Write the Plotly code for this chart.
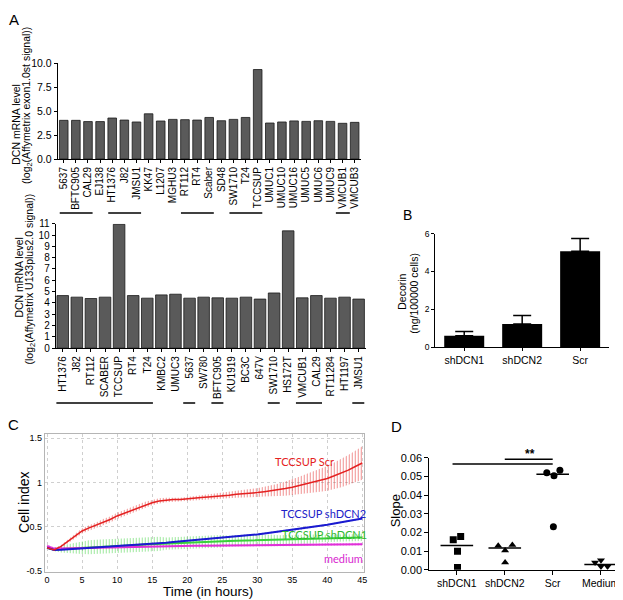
import numpy as np
import plotly.graph_objects as go

# ---------------- data ----------------
# Panel A (top): Affymetrix exon 1.0 ST
A1_LINES = ["5637", "BFTC905", "CAL29", "EJ138", "HT1376", "J82", "JMSU1", "KK47", "L1207",
            "MGHU3", "RT112", "RT4", "Scaber", "SD48", "SW1710", "T24", "TCCSUP", "UMUC1",
            "UMUC10", "UMUC16", "UMUC5", "UMUC6", "UMUC9", "VMCUB1", "VMCUB3"]
A1_DCN = [4.03, 4.03, 3.90, 3.90, 4.27, 4.06, 3.86, 4.71, 3.96, 4.13, 4.10, 4.06, 4.33,
          3.99, 4.13, 4.33, 9.32, 3.75, 3.86, 3.97, 3.92, 3.99, 3.92, 3.72, 3.82]
A1_GROUPS = [("5637", "CAL29"), ("HT1376", "JMSU1"), ("RT112", "Scaber"),
             ("SW1710", "TCCSUP"), ("VMCUB1", "VMCUB1")]
A1_YTICKS = [0, 2.5, 5, 7.5, 10]

# Panel A (bottom): Affymetrix U133plus2.0
A2_LINES = ["HT1376", "J82", "RT112", "SCABER", "TCCSUP", "RT4", "T24", "KMBC2", "UMUC3",
            "5637", "SW780", "BFTC905", "KU1919", "BC3C", "647V", "SW1710", "HS172T",
            "VMCUB1", "CAL29", "RT11284", "HT1197", "JMSU1"]
A2_DCN = [4.65, 4.51, 4.39, 4.51, 10.95, 4.65, 4.42, 4.71, 4.77, 4.42, 4.51, 4.45, 4.42,
          4.51, 4.34, 4.88, 10.37, 4.45, 4.65, 4.42, 4.51, 4.34]
A2_GROUPS = [("HT1376", "T24"), ("5637", "5637"), ("BFTC905", "BFTC905"),
             ("SW1710", "SW1710"), ("VMCUB1", "CAL29"), ("JMSU1", "JMSU1")]

# Panel B: decorin secretion
B_GROUPS = ["shDCN1", "shDCN2", "Scr"]
B_DECORIN = [0.61, 1.22, 5.07]
B_SEM = [0.22, 0.45, 0.67]

# Panel C: xCELLigence cell index (as drawn on the chart's own scale)
TIME_H = [0, 1, 2, 3, 4, 5, 6, 7, 8, 9, 10, 11, 12, 13, 14, 15, 16, 17, 18, 19, 20, 21, 22,
          23, 24, 25, 26, 27, 28, 29, 30, 31, 32, 33, 34, 35, 36, 37, 38, 39, 40, 41, 42, 43,
          44, 45]
SCR = [0.26, 0.235, 0.275, 0.33, 0.39, 0.45, 0.485, 0.515, 0.55, 0.58, 0.62, 0.65, 0.68,
       0.715, 0.745, 0.77, 0.79, 0.80, 0.805, 0.805, 0.815, 0.82, 0.83, 0.835, 0.84, 0.85,
       0.855, 0.865, 0.87, 0.88, 0.885, 0.895, 0.905, 0.915, 0.93, 0.945, 0.965, 0.985,
       1.005, 1.025, 1.045, 1.075, 1.105, 1.14, 1.18, 1.22]
SCR_SD = [0.01, 0.01, 0.015, 0.02, 0.025, 0.03, 0.03, 0.03, 0.035, 0.035, 0.035, 0.035,
          0.035, 0.035, 0.035, 0.03, 0.03, 0.025, 0.02, 0.02, 0.02, 0.025, 0.025, 0.03, 0.03,
          0.035, 0.035, 0.04, 0.04, 0.045, 0.05, 0.055, 0.06, 0.07, 0.08, 0.09, 0.10, 0.11,
          0.12, 0.13, 0.14, 0.15, 0.16, 0.17, 0.18, 0.19]
SHDCN2 = [0.26, 0.235, 0.238, 0.242, 0.246, 0.25, 0.255, 0.26, 0.266, 0.273, 0.28, 0.284,
          0.288, 0.292, 0.296, 0.30, 0.308, 0.316, 0.324, 0.332, 0.34, 0.348, 0.356, 0.364,
          0.372, 0.38, 0.386, 0.392, 0.398, 0.404, 0.41, 0.42, 0.43, 0.44, 0.45, 0.46, 0.472,
          0.484, 0.496, 0.508, 0.52, 0.534, 0.548, 0.562, 0.576, 0.59]
SHDCN2_SD = [0.01] * 46
SHDCN1 = [0.26, 0.24, 0.245, 0.25, 0.255, 0.26, 0.265, 0.27, 0.273, 0.276, 0.28, 0.284,
          0.288, 0.292, 0.296, 0.30, 0.304, 0.307, 0.31, 0.314, 0.318, 0.321, 0.324, 0.327,
          0.33, 0.333, 0.336, 0.338, 0.34, 0.342, 0.345, 0.347, 0.349, 0.351, 0.353, 0.355,
          0.357, 0.359, 0.361, 0.363, 0.365, 0.367, 0.369, 0.371, 0.373, 0.375]
SHDCN1_SD = [0.01, 0.02, 0.04, 0.05, 0.06, 0.07, 0.08, 0.08, 0.08, 0.08, 0.08, 0.08, 0.08,
             0.08, 0.08, 0.08, 0.08, 0.07, 0.07, 0.07, 0.07, 0.07, 0.07, 0.07, 0.07, 0.07,
             0.06, 0.06, 0.06, 0.06, 0.06, 0.06, 0.06, 0.05, 0.05, 0.05, 0.05, 0.05, 0.05,
             0.04, 0.04, 0.04, 0.04, 0.04, 0.04, 0.04]
MEDIUM = [0.28, 0.25, 0.252, 0.254, 0.256, 0.258, 0.26, 0.262, 0.264, 0.266, 0.268, 0.27,
          0.272, 0.274, 0.276, 0.278, 0.279, 0.28, 0.281, 0.281, 0.282, 0.283, 0.283, 0.284,
          0.285, 0.285, 0.286, 0.287, 0.287, 0.288, 0.289, 0.289, 0.29, 0.291, 0.291, 0.292,
          0.293, 0.293, 0.294, 0.295, 0.295, 0.296, 0.297, 0.298, 0.299, 0.30]
MEDIUM_SD = [0.015] * 46
C_YTICKVALS = [0, 0.5, 1, 1.5]
C_YTICKTEXT = ["-0.5", "0.5", "1", "1.5"]
C_XTICKS = [0, 5, 10, 15, 20, 25, 30, 35, 40, 45]

# Panel D: slopes
D_GROUPS = ["shDCN1", "shDCN2", "Scr", "Medium"]
D_SLOPES = [
    [0.0160, 0.0178, 0.0099, 0.0012],
    [0.0129, 0.0133, 0.0103, 0.0038],
    [0.0521, 0.0504, 0.0534, 0.0230],
    [0.0038, 0.0051, 0.0017, 0.0017],
]
D_JITTER = [
    [-0.075, 0.08, 0.014, 0.014],
    [-0.137, 0.158, 0.007, 0.007],
    [-0.123, 0.027, 0.15, 0.014],
    [-0.116, 0.007, 0.007, 0.144],
]
D_SYMBOLS = ["square", "triangle-up", "circle", "triangle-down"]
D_YTICKS = [0, 0.01, 0.02, 0.03, 0.04, 0.05, 0.06]

# ---------------- layout helpers ----------------
W, H = 623, 600
ARIAL = "Liberation Sans, Arial, sans-serif"
CALIBRI = "Lato, Open Sans, sans-serif"


def px(x):
    return x / W


def py(y):
    return 1 - y / H


def base_axis(**kw):
    d = dict(showline=True, linecolor="black", linewidth=1, ticks="outside", ticklen=3,
             tickwidth=1, tickcolor="black", showgrid=False, zeroline=False,
             tickfont=dict(family=ARIAL, size=10, color="black"), fixedrange=True)
    d.update(kw)
    return d


fig = go.Figure()

# Panel A top
fig.add_trace(go.Bar(x=A1_LINES, y=A1_DCN, xaxis="x", yaxis="y", width=0.71,
                     marker=dict(color="#5a5a5a", line=dict(color="#1a1a1a", width=0.8))))
# Panel A bottom
fig.add_trace(go.Bar(x=A2_LINES, y=A2_DCN, xaxis="x2", yaxis="y2", width=0.82,
                     marker=dict(color="#5a5a5a", line=dict(color="#1a1a1a", width=0.8))))
# Panel B
fig.add_trace(go.Bar(x=B_GROUPS, y=B_DECORIN, xaxis="x3", yaxis="y3", width=0.69,
                     marker=dict(color="black", line=dict(width=0)),
                     error_y=dict(type="data", array=B_SEM, arrayminus=[0] * len(B_SEM),
                                  symmetric=False, color="black", thickness=1.5, width=9)))

# Panel C
series = [
    (SHDCN1, SHDCN1_SD, "#39d139", 2.0),
    (MEDIUM, MEDIUM_SD, "#e030d8", 2.0),
    (SHDCN2, SHDCN2_SD, "#1a1ad0", 2.0),
    (SCR, SCR_SD, "#e42222", 1.5),
]
for vals, sd, col, lw in series:
    v = np.array(vals)
    s = np.array(sd)
    up = v + s
    lo = v - s
    fig.add_trace(go.Scatter(
        x=TIME_H + TIME_H[::-1], y=list(up) + list(lo[::-1]), xaxis="x4", yaxis="y4",
        mode="lines", line=dict(width=0, color=col), fill="toself",
        fillcolor="rgba(0,0,0,0)",
        fillpattern=dict(shape="|", size=3, solidity=0.35, fgcolor=col,
                         bgcolor="rgba(0,0,0,0)"),
        hoverinfo="skip"))
for vals, sd, col, lw in series:
    fig.add_trace(go.Scatter(x=TIME_H, y=vals, xaxis="x4", yaxis="y4", mode="lines",
                             line=dict(color=col, width=lw)))

# Panel D
shapes = []
for i, (vals, jit, sym) in enumerate(zip(D_SLOPES, D_JITTER, D_SYMBOLS)):
    fig.add_trace(go.Scatter(x=[i + j for j in jit], y=vals, xaxis="x5", yaxis="y5",
                             mode="markers",
                             marker=dict(symbol=sym, size=7, color="black")))
    med = float(np.median(vals))
    shapes.append(dict(type="line", xref="x5", yref="y5", x0=i - 0.34, x1=i + 0.34,
                       y0=med, y1=med, line=dict(color="black", width=1.5)))

# significance bars in D
shapes.append(dict(type="line", xref="x5", yref="y5", x0=-0.09, x1=2.0, y0=0.0567,
                   y1=0.0567, line=dict(color="black", width=1.5)))
shapes.append(dict(type="line", xref="x5", yref="y5", x0=1.0, x1=2.0, y0=0.0593,
                   y1=0.0593, line=dict(color="black", width=1.5)))

# group lines under panel A labels
for a, b in A1_GROUPS:
    i0, i1 = A1_LINES.index(a), A1_LINES.index(b)
    off0, off1 = (0.33, 0.38) if i1 > i0 else (0.55, 0.6)
    shapes.append(dict(type="line", xref="x", yref="paper", x0=i0 - off0, x1=i1 + off1,
                       y0=py(203), y1=py(203), line=dict(color="black", width=1.6)))
for a, b in A2_GROUPS:
    i0, i1 = A2_LINES.index(a), A2_LINES.index(b)
    shapes.append(dict(type="line", xref="x2", yref="paper", x0=i0 - 0.45, x1=i1 + 0.4,
                       y0=py(397), y1=py(397), line=dict(color="black", width=1.6)))

annotations = []


def ann(text, x, y, size, angle=0, color="black", family=ARIAL):
    annotations.append(dict(text=text, x=px(x), y=py(y), xref="paper", yref="paper",
                            showarrow=False, textangle=angle, xanchor="center",
                            yanchor="middle",
                            font=dict(family=family, size=size, color=color)))


# panel letters
ann("A", 6, 6, 15)
ann("B", 402, 205, 14)
ann("C", 6, 419, 15)
ann("D", 391, 421, 15)

# axis titles
ann("DCN mRNA level", 8, 112, 10.5, -90)
ann("(log<sub>2</sub>(Affymetrix exon1.0st signal))", 19, 93, 10.5, -90)
ann("DCN mRNA level", 11, 268, 10.5, -90)
ann("(log<sub>2</sub>(Affymetrix U133plus2.0 signal))", 22, 270, 10.5, -90)
ann("Decorin", 397, 283, 10.5, -90)
ann("(ng/100000 cells)", 409, 285, 10.5, -90)
ann("Cell index", 16, 498, 14, -90)
ann("Time (in hours)", 201, 589, 13.5)
ann("Slope", 390, 507, 13, -90)
ann("<b>**</b>", 525, 449, 12)

# curve labels in C
ann("TCCSUP Scr", 298, 457, 11, 0, "#e42222", CALIBRI)
ann("TCCSUP shDCN2", 318, 510, 11, 0, "#2020c8", CALIBRI)
ann("TCCSUP shDCN1", 319, 531, 11, 0, "#2fb82f", CALIBRI)
ann("medium", 338, 556, 11, 0, "#d828d0", CALIBRI)

fig.update_layout(
    width=W, height=H, autosize=False, margin=dict(l=0, r=0, t=0, b=0),
    paper_bgcolor="white", plot_bgcolor="white", showlegend=False,
    font=dict(family=ARIAL, color="black"),
    xaxis=base_axis(type="category", domain=[px(50), px(355)], anchor="y",
                    range=[-0.5, len(A1_LINES) - 0.5], tickangle=-90,
                    tickfont=dict(family=ARIAL, size=10, color="black")),
    yaxis=base_axis(domain=[py(148), py(50)], anchor="x", range=[0, 10],
                    tickvals=A1_YTICKS, tickformat=".1f",
                    tickfont=dict(family=ARIAL, size=10.5, color="black")),
    xaxis2=base_axis(type="category", domain=[px(48), px(360)], anchor="y2",
                     range=[-0.5, len(A2_LINES) - 0.5], tickangle=-90,
                     tickfont=dict(family=ARIAL, size=10, color="black")),
    yaxis2=base_axis(domain=[py(341), py(214)], anchor="x2", range=[0, 11], dtick=1,
                     tick0=0, tickfont=dict(family=ARIAL, size=10, color="black")),
    xaxis3=base_axis(type="category", domain=[px(430), px(605)], anchor="y3",
                     range=[-0.5, 2.5], tickfont=dict(family=ARIAL, size=10.5, color="black")),
    yaxis3=base_axis(domain=[py(340), py(224)], anchor="x3", range=[0, 6], dtick=2,
                     tickfont=dict(family=ARIAL, size=8.5, color="black")),
    xaxis4=dict(domain=[px(37), px(358)], anchor="y4", range=[-0.33, 45.2],
                tickvals=C_XTICKS, showgrid=True, gridcolor="#cfcfcf", griddash="dot",
                gridwidth=1, showline=True, mirror=True, linecolor="#b5b5b5", linewidth=1,
                zeroline=False, ticks="", fixedrange=True,
                tickfont=dict(family=ARIAL, size=9, color="black")),
    yaxis4=dict(domain=[py(569), py(429)], anchor="x4", range=[-0.011, 1.544],
                tickvals=C_YTICKVALS, ticktext=C_YTICKTEXT, showgrid=True,
                gridcolor="#cfcfcf", griddash="dot", gridwidth=1, showline=True,
                mirror=True, linecolor="#b5b5b5", linewidth=1, zeroline=False, ticks="",
                fixedrange=True, tickfont=dict(family=ARIAL, size=9, color="black")),
    xaxis5=base_axis(domain=[px(424), 1.0], anchor="y5", range=[-0.575, 3.55],
                     tickvals=[0, 1, 2, 3], ticktext=D_GROUPS, ticklen=4,
                     tickfont=dict(family=ARIAL, size=10.5, color="black")),
    yaxis5=base_axis(domain=[py(567), py(453)], anchor="x5", range=[0, 0.06],
                     tickvals=D_YTICKS, tickformat=".2f", ticklen=4,
                     tickfont=dict(family=ARIAL, size=11, color="black")),
    shapes=shapes,
    annotations=annotations,
)

fig.write_html("out.html")
